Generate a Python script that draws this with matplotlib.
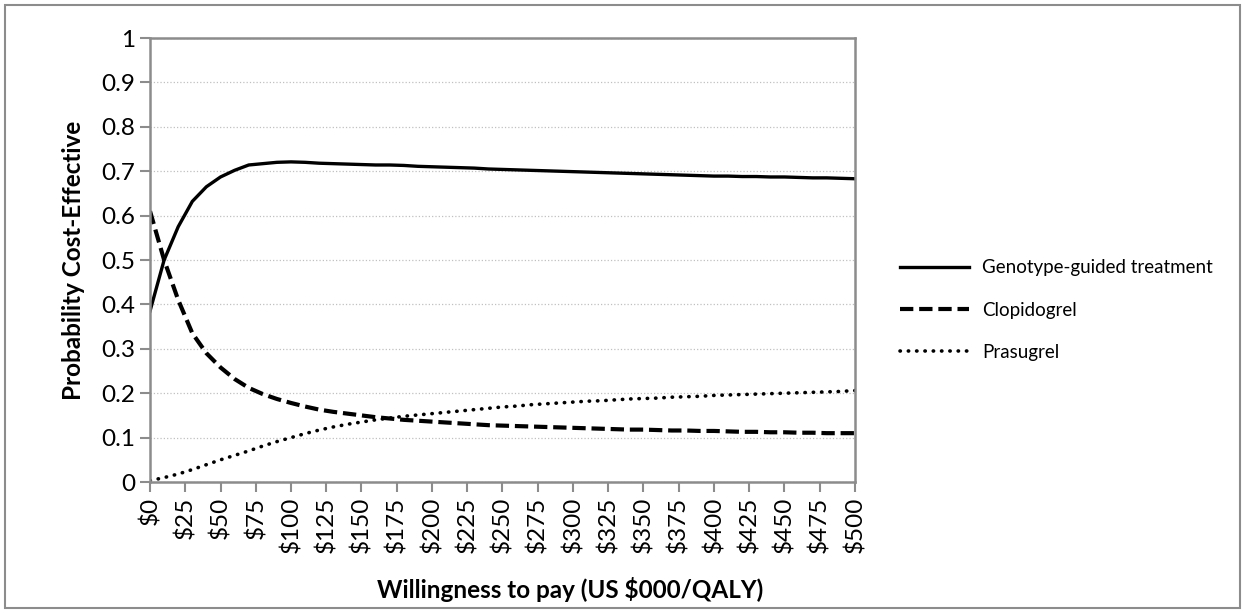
import matplotlib.pyplot as plt
import matplotlib.patches as patches
import numpy as np

# willingness to pay, US $000/QALY
wtp = list(range(0, 510, 10))

genotype = [0.385, 0.500, 0.575, 0.632, 0.665, 0.687, 0.702, 0.714, 0.717, 0.720,
            0.721, 0.720, 0.718, 0.717, 0.716, 0.715, 0.714, 0.714, 0.713, 0.711,
            0.710, 0.709, 0.708, 0.707, 0.705, 0.704, 0.703, 0.702, 0.701, 0.700,
            0.699, 0.698, 0.697, 0.696, 0.695, 0.694, 0.693, 0.692, 0.691, 0.690,
            0.689, 0.689, 0.688, 0.688, 0.687, 0.687, 0.686, 0.685, 0.685, 0.684,
            0.683]
clopidogrel = [0.610, 0.500, 0.410, 0.335, 0.290, 0.258, 0.232, 0.212, 0.198, 0.187,
               0.178, 0.170, 0.163, 0.158, 0.154, 0.150, 0.146, 0.143, 0.140, 0.138,
               0.136, 0.134, 0.132, 0.130, 0.128, 0.127, 0.126, 0.125, 0.124, 0.123,
               0.122, 0.121, 0.120, 0.119, 0.118, 0.118, 0.117, 0.116, 0.116, 0.115,
               0.115, 0.114, 0.113, 0.113, 0.112, 0.112, 0.111, 0.111, 0.110, 0.110,
               0.110]
prasugrel = [0.003, 0.010, 0.018, 0.028, 0.039, 0.050, 0.060, 0.070, 0.081, 0.091,
             0.100, 0.109, 0.117, 0.124, 0.130, 0.135, 0.140, 0.144, 0.148, 0.151,
             0.154, 0.157, 0.160, 0.163, 0.166, 0.169, 0.171, 0.174, 0.176, 0.178,
             0.180, 0.182, 0.183, 0.185, 0.187, 0.188, 0.189, 0.191, 0.192, 0.193,
             0.195, 0.196, 0.197, 0.198, 0.199, 0.200, 0.201, 0.202, 0.203, 0.204,
             0.206]

x_ticks = list(range(0, 525, 25))
x_labels = ["$" + str(v) for v in x_ticks]
y_ticks = [0, 0.1, 0.2, 0.3, 0.4, 0.5, 0.6, 0.7, 0.8, 0.9, 1]
y_labels = ["0", "0.1", "0.2", "0.3", "0.4", "0.5", "0.6", "0.7", "0.8", "0.9", "1"]

plt.rcParams['font.family'] = ['Lato', 'DejaVu Sans']

fig = plt.figure(figsize=(12.45, 6.13), dpi=100)
ax = fig.add_axes([0.1205, 0.2137, 0.5662, 0.7243])

ax.plot(wtp, genotype, color='black', lw=2.4, label='Genotype-guided treatment')
ax.plot(wtp, clopidogrel, color='black', lw=3, dashes=(3.2, 1.4), label='Clopidogrel')
ax.plot(wtp, prasugrel, color='black', lw=2.6, linestyle=(0, (0.1, 2.2)),
        dash_capstyle='round', label='Prasugrel')

ax.set_xlim(0, 500)
ax.set_ylim(0, 1)
ax.set_xticks(x_ticks)
ax.set_xticklabels(x_labels, rotation=90, fontsize=17.5)
ax.set_yticks(y_ticks)
ax.set_yticklabels(y_labels, fontsize=17.5)
ax.tick_params(axis='both', direction='out', length=7, width=1.5, color='#8c8c8c',
               labelcolor='black')

ax.grid(axis='y', color='#c0c0c0', linestyle=':', lw=0.9)
for s in ax.spines.values():
    s.set_color('#8c8c8c')
    s.set_linewidth(1.8)

ax.set_xlabel("Willingness to pay (US $000/QALY)", fontsize=17.5, fontweight='bold', labelpad=14)
ax.xaxis.set_label_coords(0.596, -0.215)
ax.set_ylabel("Probability Cost-Effective", fontsize=17.5, fontweight='bold', labelpad=12)

fig.legend(loc='center left', bbox_to_anchor=(0.709, 0.494), frameon=False, fontsize=13.5,
           handlelength=3.7, handletextpad=0.7, labelspacing=1.35)

# outer border
fig.patches.append(patches.Rectangle((0.004, 0.008), 0.992, 0.984, transform=fig.transFigure,
                                     fill=False, edgecolor='#8c8c8c', lw=1.5))

fig.savefig("out.png", dpi=100)
